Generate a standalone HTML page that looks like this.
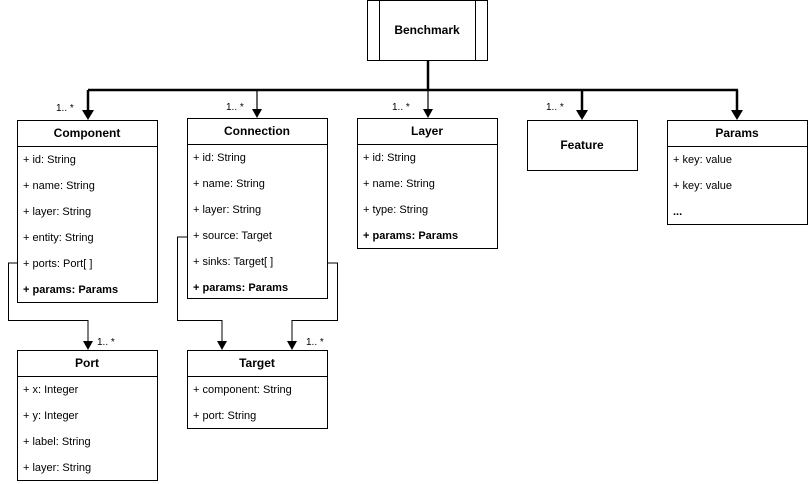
<!DOCTYPE html>
<html><head><meta charset="utf-8"><style>
html,body{margin:0;padding:0;background:#fff;}
svg{display:block;font-family:"Liberation Sans",Arial,sans-serif;}
.h{font-size:12px;font-weight:bold;text-anchor:middle;}
.r{font-size:11px;}
.b{font-size:11px;font-weight:bold;}
.m{font-size:10px;}
</style></head><body>
<svg width="808" height="484" viewBox="0 0 808 484">
<g fill="#fff" stroke="#000" stroke-width="1">
<rect x="367.5" y="0.5" width="120" height="60"/>
<line x1="379.5" y1="0.5" x2="379.5" y2="60.5"/>
<line x1="475.5" y1="0.5" x2="475.5" y2="60.5"/>
</g>
<text class="h" x="427" y="34">Benchmark</text>
<!-- trunk -->
<g stroke="#000" fill="none">
<line x1="428" y1="60" x2="428" y2="90" stroke-width="2.5"/>
<line x1="88" y1="90" x2="738" y2="90" stroke-width="2.5"/>
<line x1="88" y1="90" x2="88" y2="110" stroke-width="2.5"/>
<line x1="257" y1="90" x2="257" y2="110" stroke-width="1.2"/>
<line x1="428" y1="90" x2="428" y2="110" stroke-width="1.2"/>
<line x1="582" y1="90" x2="582" y2="110" stroke-width="2.5"/>
<line x1="737" y1="90" x2="737" y2="110" stroke-width="2.5"/>
<path d="M17.5 263 H8.5 V320.5 H88 V342" stroke-width="1"/>
<path d="M187.5 237 H177.5 V320.5 H222 V342" stroke-width="1"/>
<path d="M327.5 263 H337.5 V320.5 H292 V342" stroke-width="1"/>
</g>
<g fill="#000">
<path d="M82 110 L94 110 L88 120 Z"/>
<path d="M252 109 L262 109 L257 118 Z"/>
<path d="M423 109 L433 109 L428 118 Z"/>
<path d="M576 110 L588 110 L582 120 Z"/>
<path d="M731 110 L743 110 L737 120 Z"/>
<path d="M83 341 L93 341 L88 350 Z"/>
<path d="M217 341 L227 341 L222 350 Z"/>
<path d="M287 341 L297 341 L292 350 Z"/>
</g>
<g class="m">
<text x="56" y="111">1.. *</text>
<text x="226" y="110">1.. *</text>
<text x="392" y="110">1.. *</text>
<text x="546" y="110">1.. *</text>
<text x="97" y="345">1.. *</text>
<text x="306" y="345">1.. *</text>
</g>
<g fill="#fff" stroke="#000" stroke-width="1">
<rect x="17.5" y="120.5" width="140" height="182"/><line x1="17.5" y1="146.5" x2="157.5" y2="146.5"/>
<rect x="187.5" y="118.5" width="140" height="180"/><line x1="187.5" y1="144.5" x2="327.5" y2="144.5"/>
<rect x="357.5" y="118.5" width="140" height="130"/><line x1="357.5" y1="144.5" x2="497.5" y2="144.5"/>
<rect x="527.5" y="120.5" width="110" height="50"/>
<rect x="667.5" y="120.5" width="140" height="104"/><line x1="667.5" y1="146.5" x2="807.5" y2="146.5"/>
<rect x="17.5" y="350.5" width="140" height="130"/><line x1="17.5" y1="376.5" x2="157.5" y2="376.5"/>
<rect x="187.5" y="350.5" width="140" height="78"/><line x1="187.5" y1="376.5" x2="327.5" y2="376.5"/>
</g>
<text class="h" x="87" y="137">Component</text>
<text class="r" x="23" y="163">+ id: String</text>
<text class="r" x="23" y="189">+ name: String</text>
<text class="r" x="23" y="215">+ layer: String</text>
<text class="r" x="23" y="241">+ entity: String</text>
<text class="r" x="23" y="267">+ ports: Port[ ]</text>
<text class="b" x="23" y="293">+ params: Params</text>

<text class="h" x="257" y="135">Connection</text>
<text class="r" x="193" y="161">+ id: String</text>
<text class="r" x="193" y="187">+ name: String</text>
<text class="r" x="193" y="213">+ layer: String</text>
<text class="r" x="193" y="239">+ source: Target</text>
<text class="r" x="193" y="265">+ sinks: Target[ ]</text>
<text class="b" x="193" y="291">+ params: Params</text>

<text class="h" x="427" y="135">Layer</text>
<text class="r" x="363" y="161">+ id: String</text>
<text class="r" x="363" y="187">+ name: String</text>
<text class="r" x="363" y="213">+ type: String</text>
<text class="b" x="363" y="239">+ params: Params</text>

<text class="h" x="582" y="149">Feature</text>

<text class="h" x="737" y="137">Params</text>
<text class="r" x="673" y="163">+ key: value</text>
<text class="r" x="673" y="189">+ key: value</text>
<text class="b" x="673" y="215">...</text>

<text class="h" x="87" y="367">Port</text>
<text class="r" x="23" y="393">+ x: Integer</text>
<text class="r" x="23" y="419">+ y: Integer</text>
<text class="r" x="23" y="445">+ label: String</text>
<text class="r" x="23" y="471">+ layer: String</text>

<text class="h" x="257" y="367">Target</text>
<text class="r" x="193" y="393">+ component: String</text>
<text class="r" x="193" y="419">+ port: String</text>
</svg>
</body></html>
